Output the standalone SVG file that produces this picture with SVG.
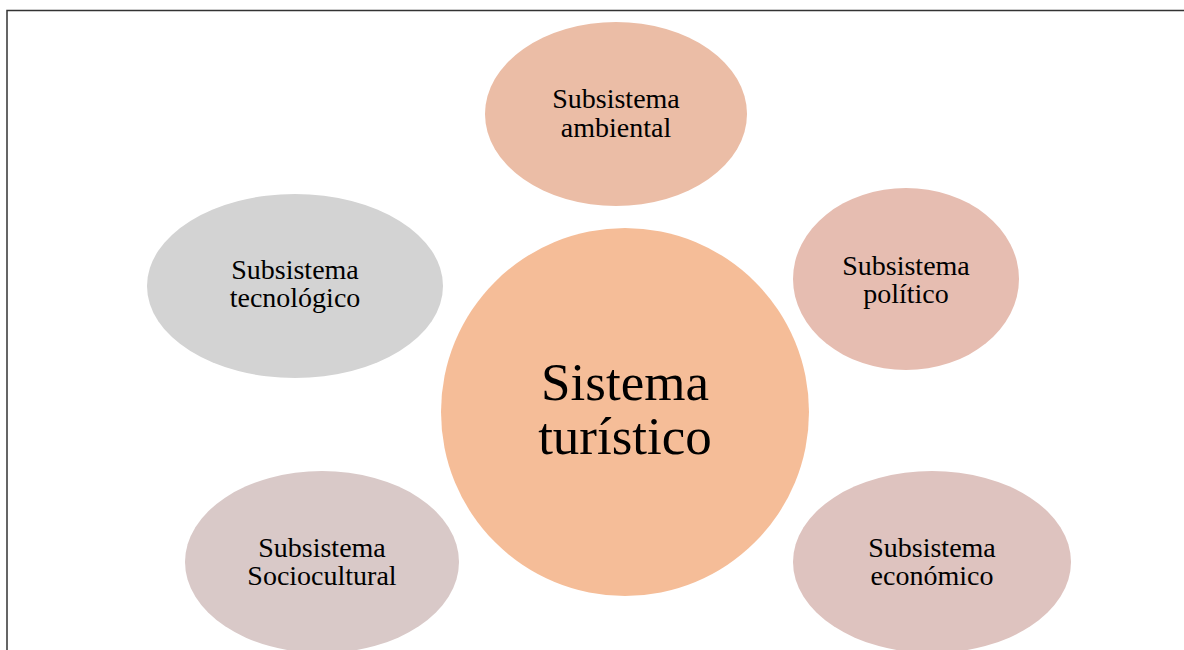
<svg xmlns="http://www.w3.org/2000/svg" width="1184" height="650" viewBox="0 0 1184 650">
<style>
text{font-family:"Liberation Serif","Times New Roman",serif;fill:#000;text-anchor:middle}
.s{font-size:28px}
.c{font-size:53px}
</style>
<rect x="0" y="0" width="1184" height="650" fill="#fff"/>
<rect x="7" y="10.5" width="1200" height="700" fill="none" stroke="#333" stroke-width="1.5"/>
<g id="connectors"></g>
<g id="ambiental">
<ellipse cx="616" cy="114" rx="131" ry="92" fill="#EBBDA6"/>
<text class="s" x="616" y="108">Subsistema</text>
<text class="s" x="616" y="137">ambiental</text>
</g>
<g id="politico">
<ellipse cx="906" cy="279" rx="113" ry="91" fill="#E6BDB1"/>
<text class="s" x="906" y="275">Subsistema</text>
<text class="s" x="906" y="303">político</text>
</g>
<g id="tecnologico">
<ellipse cx="295" cy="286" rx="148" ry="92" fill="#D3D3D3"/>
<text class="s" x="295" y="279">Subsistema</text>
<text class="s" x="295" y="307">tecnológico</text>
</g>
<g id="sociocultural">
<ellipse cx="322" cy="562" rx="137" ry="91" fill="#D9C9C8"/>
<text class="s" x="322" y="557">Subsistema</text>
<text class="s" x="322" y="585">Sociocultural</text>
</g>
<g id="economico">
<ellipse cx="932" cy="562" rx="139" ry="91" fill="#DEC3BF"/>
<text class="s" x="932" y="557">Subsistema</text>
<text class="s" x="932" y="585">económico</text>
</g>
<g id="central">
<circle cx="625" cy="412" r="184" fill="#F5BD98"/>
<text class="c" x="625" y="400">Sistema</text>
<text class="c" x="625" y="454">turístico</text>
</g>
</svg>
